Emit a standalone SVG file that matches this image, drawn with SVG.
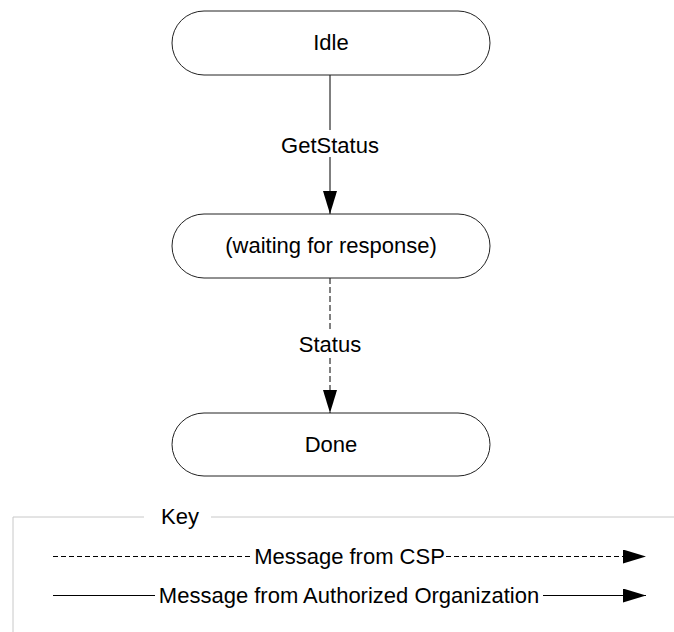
<svg xmlns="http://www.w3.org/2000/svg" width="674" height="632" viewBox="0 0 674 632">
<style>
.node rect{fill:#fff;stroke:#222;stroke-width:1}
text{font-family:"Liberation Sans",Arial,sans-serif;font-size:22px;fill:#000}
.c{text-anchor:middle}
.ln{stroke:#000;stroke-width:1;fill:none}
.dash{stroke-dasharray:6 3}
.frame{stroke:#c8c8c8;stroke-width:1;fill:none}
</style>
<defs>
<marker id="ah" viewBox="0 0 23 14" markerWidth="23" markerHeight="14" refX="23" refY="7" markerUnits="userSpaceOnUse" orient="auto">
<path d="M0,0 L23,7 L0,14 z" fill="#000"/>
</marker>
</defs>
<rect width="674" height="632" fill="#fff"/>
<g id="connectors">
<line class="ln" x1="330" y1="75" x2="330" y2="130"/>
<line class="ln" x1="330" y1="157" x2="330" y2="214" marker-end="url(#ah)"/>
<text class="c" x="330" y="153">GetStatus</text>
<line class="ln dash" x1="330" y1="278" x2="330" y2="332"/>
<line class="ln dash" x1="330" y1="358" x2="330" y2="413" marker-end="url(#ah)"/>
<text class="c" x="330" y="352">Status</text>
</g>
<g id="idle" class="node">
<rect x="172" y="11" width="318" height="64" rx="32" ry="32"/>
<text class="c" x="331" y="50">Idle</text>
</g>
<g id="waiting" class="node">
<rect x="172" y="214" width="318" height="64" rx="32" ry="32"/>
<text class="c" x="331" y="253">(waiting for response)</text>
</g>
<g id="done" class="node">
<rect x="172" y="413" width="318" height="63" rx="32" ry="32"/>
<text class="c" x="331" y="452">Done</text>
</g>
<g id="key">
<path class="frame" d="M144,517 H13 V632 M211,517 H674"/>
<text x="161" y="524">Key</text>
<line class="ln" x1="53" y1="556.5" x2="253" y2="556.5" stroke-dasharray="5 3"/>
<line class="ln" x1="446" y1="556.5" x2="646" y2="556.5" stroke-dasharray="5 3" marker-end="url(#ah)"/>
<text class="c" x="349.5" y="564">Message from CSP</text>
<line class="ln" x1="53" y1="595.5" x2="155" y2="595.5"/>
<line class="ln" x1="543" y1="595.5" x2="646" y2="595.5" marker-end="url(#ah)"/>
<text class="c" x="349" y="603">Message from Authorized Organization</text>
</g>
</svg>
